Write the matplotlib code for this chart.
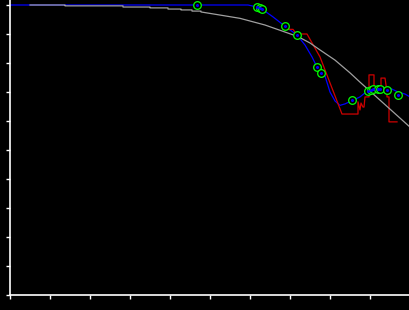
import matplotlib
matplotlib.use('Agg')
import matplotlib.pyplot as plt
import matplotlib.ticker as tik

# data (x: 0-100, y: 0-1)
gray_x = [5.0, 13.75, 13.75, 28.25, 28.25, 35.0, 35.0, 39.5, 39.5, 42.75, 42.75,
          45.5, 45.5, 47.75, 47.75, 50.0, 57.5, 63.75, 72.0, 75.0, 77.5, 81.25,
          85.0, 87.5, 90.0, 92.5, 95.0, 97.5, 100.0]
gray_y = [1.000, 1.000, 0.997, 0.997, 0.993, 0.993, 0.990, 0.990, 0.986, 0.986, 0.983,
          0.983, 0.979, 0.979, 0.976, 0.971, 0.954, 0.931, 0.891, 0.869, 0.845, 0.810,
          0.766, 0.734, 0.703, 0.672, 0.641, 0.610, 0.579]

blue_x = [0.0, 59.5, 60.5, 61.75, 63.0, 65.75, 69.0, 71.75, 73.75, 75.5, 76.75, 77.75,
          78.75, 80.0, 81.25, 82.5, 83.75, 85.5, 87.5, 88.75, 89.5, 90.5, 92.0, 94.25,
          95.5, 97.0, 98.75, 100.0]
blue_y = [1.000, 1.000, 0.997, 0.993, 0.986, 0.959, 0.924, 0.897, 0.862, 0.821, 0.786,
          0.766, 0.755, 0.700, 0.669, 0.654, 0.659, 0.670, 0.683, 0.697, 0.703, 0.710,
          0.714, 0.714, 0.710, 0.700, 0.693, 0.683]

red_x = [69.25, 70.75, 71.75, 72.0, 74.25, 77.5, 83.0, 87.0, 87.0, 87.5, 87.75, 88.25,
         88.5, 88.75, 89.0, 89.75, 89.75, 89.75, 91.0, 91.0, 92.0, 92.75, 92.75, 93.75,
         94.25, 94.25, 94.75, 94.75, 96.75]
red_y = [0.916, 0.916, 0.897, 0.900, 0.900, 0.821, 0.624, 0.624, 0.666, 0.638, 0.662,
         0.648, 0.648, 0.683, 0.683, 0.683, 0.707, 0.759, 0.759, 0.700, 0.700, 0.700,
         0.748, 0.748, 0.700, 0.683, 0.683, 0.597, 0.597]

pt_x = [46.75, 61.75, 62.5, 63.0, 68.75, 71.75, 76.75, 77.75, 85.5, 89.5, 90.25,
        90.75, 92.0, 92.5, 94.25, 97.0]
pt_y = [1.000, 0.993, 0.990, 0.986, 0.928, 0.897, 0.786, 0.766, 0.671, 0.703, 0.707,
        0.710, 0.710, 0.710, 0.707, 0.690]

fig = plt.figure(figsize=(4.1, 3.1), dpi=100, facecolor='black')
ax = fig.add_axes([10/410, 15/310, 400/410, 295/310])
ax.set_facecolor('black')

ax.plot(blue_x, blue_y, color='#0000ff', linewidth=0.9, zorder=2)
ax.plot(gray_x, gray_y, color='#a0a0a0', linewidth=0.9, zorder=3)
ax.plot(red_x, red_y, color='#d00000', linewidth=0.9, zorder=2)
ax.plot(pt_x, pt_y, linestyle='none', marker='o', markersize=5.5,
        markerfacecolor='black', markeredgecolor='#00ff00', markeredgewidth=0.9, zorder=4)
ax.plot(pt_x, pt_y, linestyle='none', marker='o', markersize=1.2,
        color='#0000ff', zorder=5)

ax.set_xlim(0, 100)
ax.set_ylim(0, 295/290)
ax.xaxis.set_major_locator(tik.MultipleLocator(10))
ax.yaxis.set_major_locator(tik.MultipleLocator(0.1))

for s in ['top', 'right']:
    ax.spines[s].set_visible(False)
for s in ['left', 'bottom']:
    ax.spines[s].set_color('white')
    ax.spines[s].set_linewidth(1.2)
ax.tick_params(colors='white', length=3, width=1, direction='out',
               labelleft=False, labelbottom=False)

plt.savefig('out.png', dpi=100, facecolor='black')
